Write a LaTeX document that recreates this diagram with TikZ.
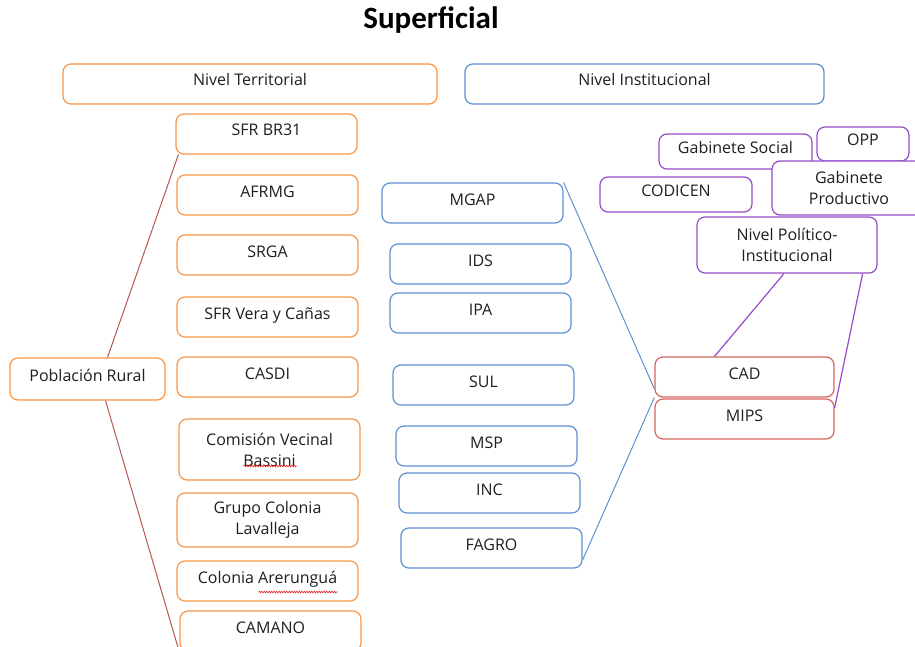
\documentclass[tikz,border=0pt]{standalone}
\usepackage{fontspec}
\setmainfont{Open Sans}
\newfontfamily\titlefont{Carlito}
\usetikzlibrary{positioning, decorations.pathmorphing}

\definecolor{terrline}{RGB}{247,150,70}
\definecolor{instline}{RGB}{95,145,210}
\definecolor{redline}{RGB}{215,100,95}
\definecolor{polline}{RGB}{150,75,200}
\definecolor{spellred}{RGB}{230,30,30}

\begin{document}
\begin{tikzpicture}[x=1pt, y=-1pt,
        box/.style={rounded corners=8pt, line width=1.2pt, fill=white, text=black!88,
            minimum width=181pt, minimum height=40pt, align=center,
            font=\fontsize{16}{21}\selectfont},
        oneline/.style={text height=12pt, text depth=8pt},
        terr/.style={box, draw=terrline},
        inst/.style={box, draw=instline, oneline},
        redbox/.style={box, draw=redline, oneline, minimum width=179pt},
        pol/.style={box, draw=polline, minimum width=152pt, minimum height=35pt},
        redlink/.style={line width=1pt, redline!85!black},
        instlink/.style={line width=1pt, instline},
        pollink/.style={line width=1.2pt, polline},
        spellwave/.style={spellred, line width=0.6pt, decorate,
            decoration={snake, amplitude=0.8pt, segment length=2.5pt}}
    ]
    \useasboundingbox (0,0) rectangle (915,647);

    % Title
    \node[font=\titlefont\bfseries\fontsize{31}{36}\selectfont] (title) at (431,20) {Superficial};

    % Level headers
    \node[terr, oneline, minimum width=374pt] (nivT) at (250,84) {Nivel Territorial};
    \node[inst, minimum width=359pt] (nivI) at (644.5,84) {Nivel Institucional};

    % Territorial level
    \node[terr, oneline] (sfr) at (266.5,134) {SFR BR31};
    \node[terr, oneline] (afrmg) at (267.5,195) {AFRMG};
    \node[terr, oneline] (srga) at (267.5,255) {SRGA};
    \node[terr, oneline] (vera) at (267.5,317) {SFR Vera y Cañas};
    \node[terr, oneline] (casdi) at (267.5,377) {CASDI};
    \node[terr, minimum height=61pt] (bassini) at (269.5,449.5) {Comisión Vecinal\\Bassini};
    \node[terr, minimum height=54pt] (lavalleja) at (267.5,520) {Grupo Colonia\\Lavalleja};
    \node[terr, oneline] (arerungua) at (267.5,581) {Colonia Arerunguá};
    \node[terr, oneline] (camano) at (270.5,631) {CAMANO};
    \node[terr, oneline, minimum width=155pt, minimum height=42pt] (pobl) at (87.5,379) {Población Rural};

    % spell-check marks
    \draw[spellwave] ([xshift=-26pt,yshift=-16.5pt]bassini.center) -- ([xshift=27pt,yshift=-16.5pt]bassini.center);
    \draw[spellwave] ([xshift=-9pt,yshift=-11pt]arerungua.center) -- ([xshift=70pt,yshift=-11pt]arerungua.center);

    \draw[redlink] ([xshift=20pt]pobl.north) -- ([xshift=3pt]sfr.south west);
    \draw[redlink] ([xshift=18pt]pobl.south) -- ([xshift=1pt,yshift=-4pt]camano.south west);

    % Institutional level
    \node[inst] (mgap) at (472.5,203) {MGAP};
    \node[inst] (ids) at (480.5,264) {IDS};
    \node[inst] (ipa) at (480.5,313) {IPA};
    \node[inst] (sul) at (483.5,385) {SUL};
    \node[inst] (msp) at (486.5,446) {MSP};
    \node[inst] (inc) at (489.5,493) {INC};
    \node[inst] (fagro) at (491.5,548) {FAGRO};

    \node[redbox] (cad) at (744.5,377) {CAD};
    \node[redbox] (mips) at (744.5,419) {MIPS};

    \draw[instlink] (mgap.north east) -- ([yshift=-12pt]cad.west);
    \draw[instlink] ([yshift=-12pt]fagro.east) -- ([yshift=1pt]mips.north west);

    % Political-institutional level
    \node[pol, oneline, minimum width=153pt] (gsocial) at (735.5,151.5) {Gabinete Social};
    \node[pol, oneline, minimum width=92pt, minimum height=34pt] (opp) at (863,144) {OPP};
    \node[pol, minimum width=154pt, minimum height=54pt] (gprod) at (849,188) {Gabinete\\Productivo};
    \node[pol, oneline] (codicen) at (676,194.5) {CODICEN};
    \node[pol, minimum width=180pt, minimum height=56pt] (npi) at (787,245) {Nivel Político-\\Institucional};

    \draw[pollink] ([xshift=-3pt]npi.south) -- ([xshift=-30pt]cad.north);
    \draw[pollink] ([xshift=-15pt]npi.south east) -- ([yshift=11pt]mips.east);
\end{tikzpicture}
\end{document}
